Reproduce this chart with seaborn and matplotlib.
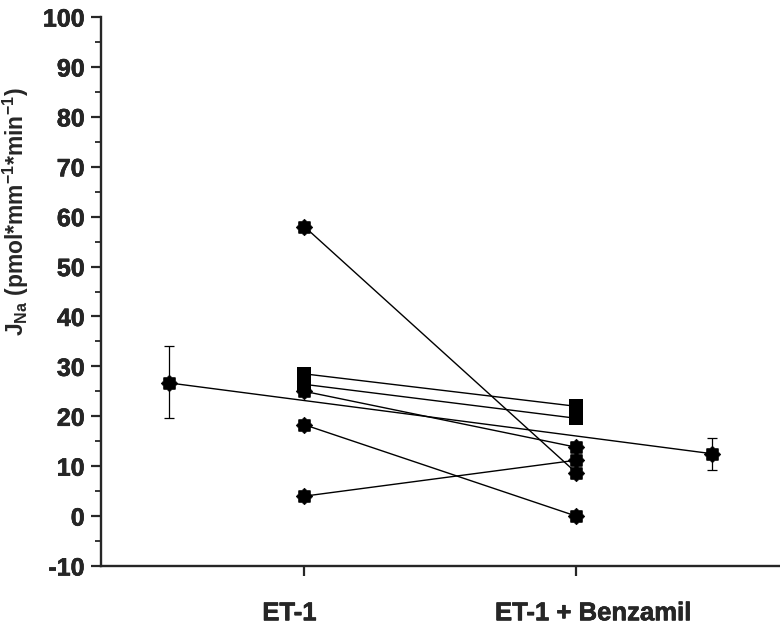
import numpy as np
import pandas as pd
import seaborn as sns
import matplotlib.pyplot as plt
import matplotlib.transforms as mtransforms
import matplotlib.patheffects as pe
from matplotlib.path import Path
from matplotlib.ticker import MultipleLocator

# paired measurements: ET-1 -> ET-1 + Benzamil
et1 = [58.0, 28.5, 26.4, 25.0, 18.3, 4.0]
benz = [8.7, 22.0, 19.6, 13.8, 0.0, 11.2]
kind = ['star', 'square', 'square', 'star', 'star', 'star']

# means with error
mean_vals = [26.7, 12.5]
mean_err_lo = [7.1, 3.2]
mean_err_hi = [7.3, 3.1]

categories = ['ET-1', 'ET-1 + Benzamil']
cat_pos = [1, 2]
mean_pos = [0.5, 2.5]


def star_path(n=8, inner=0.78):
    ang = np.linspace(0, 2 * np.pi, 2 * n, endpoint=False) + np.pi / 2
    r = np.array([1.0 if i % 2 == 0 else inner for i in range(2 * n)])
    verts = np.column_stack([r * np.cos(ang), r * np.sin(ang)])
    verts = np.vstack([verts, verts[0]])
    codes = [Path.MOVETO] + [Path.LINETO] * (2 * n - 1) + [Path.CLOSEPOLY]
    return Path(verts, codes)


STAR = star_path()

rows = []
for i, (a, b, k) in enumerate(zip(et1, benz, kind)):
    rows.append({'unit': i, 'x': cat_pos[0], 'y': a, 'kind': k})
    rows.append({'unit': i, 'x': cat_pos[1], 'y': b, 'kind': k})
df = pd.DataFrame(rows)

sns.set_style('ticks')
plt.rcParams['font.family'] = ['Liberation Sans', 'DejaVu Sans']
plt.rcParams['font.weight'] = 'bold'
plt.rcParams['axes.unicode_minus'] = False
plt.rcParams['mathtext.fontset'] = 'custom'
plt.rcParams['mathtext.bf'] = 'Liberation Sans:bold'
plt.rcParams['mathtext.rm'] = 'Liberation Sans:bold'

heavy = [pe.withStroke(linewidth=0.4, foreground='black')]

fig = plt.figure(figsize=(7.8, 6.31), dpi=100)
ax = fig.add_axes([0.129, 0.103, 0.871, 0.870])

sns.lineplot(data=df, x='x', y='y', units='unit', estimator=None,
             color='black', linewidth=1.0, ax=ax, legend=False)

# mean line
ax.plot(mean_pos, mean_vals, color='black', linewidth=1.0, zorder=2)

sns.scatterplot(data=df[df.kind == 'star'], x='x', y='y', marker=STAR,
                s=140, color='black', edgecolor='black', linewidth=0.5,
                ax=ax, zorder=3, legend=False)
sq = df[df.kind == 'square']
ax.scatter(sq.x, sq.y, marker='s', s=100, color='black', zorder=3,
           linewidths=0)

ax.errorbar(mean_pos, mean_vals, yerr=[mean_err_lo, mean_err_hi], fmt='none',
            ecolor='black', elinewidth=0.9, capsize=3.8, capthick=0.9, zorder=2)
ax.scatter(mean_pos, mean_vals, marker=STAR, s=140, color='black', zorder=3,
           linewidths=0.5)

ax.set_xlim(0.25, 2.75)
ax.set_ylim(-10, 100)
ax.set_xticks(cat_pos)
ax.set_xticklabels([])
ax.yaxis.set_major_locator(MultipleLocator(10))
ax.yaxis.set_minor_locator(MultipleLocator(5))

for lab in ax.get_yticklabels():
    lab.set_fontsize(18)
    lab.set_fontweight('bold')
    lab.set_path_effects(heavy)

# category labels sit slightly outward from their ticks
trans = mtransforms.blended_transform_factory(ax.transData, fig.transFigure)
for pos, txt, dx in zip(cat_pos, categories, [-0.055, 0.063]):
    ax.text(pos + dx, 0.017, txt, transform=trans, ha='center', va='baseline',
            fontsize=18.5, fontweight='bold', path_effects=heavy)

ax.tick_params(axis='both', which='major', direction='out', length=7.5, width=1.6, pad=4)
ax.tick_params(axis='y', which='minor', direction='out', length=4, width=1.3)

ax.set_xlabel('')
ax.set_ylabel(r'J$_{\mathbf{Na}}$ (pmol*mm$^{\mathbf{-1}}$*min$^{\mathbf{-1}}$)',
              fontsize=16.5, fontweight='bold')
ax.yaxis.set_label_coords(-0.102, 0.645)

for side in ['top', 'right']:
    ax.spines[side].set_visible(False)
for side in ['left', 'bottom']:
    ax.spines[side].set_linewidth(1.7)

fig.savefig('out.png', dpi=100)
